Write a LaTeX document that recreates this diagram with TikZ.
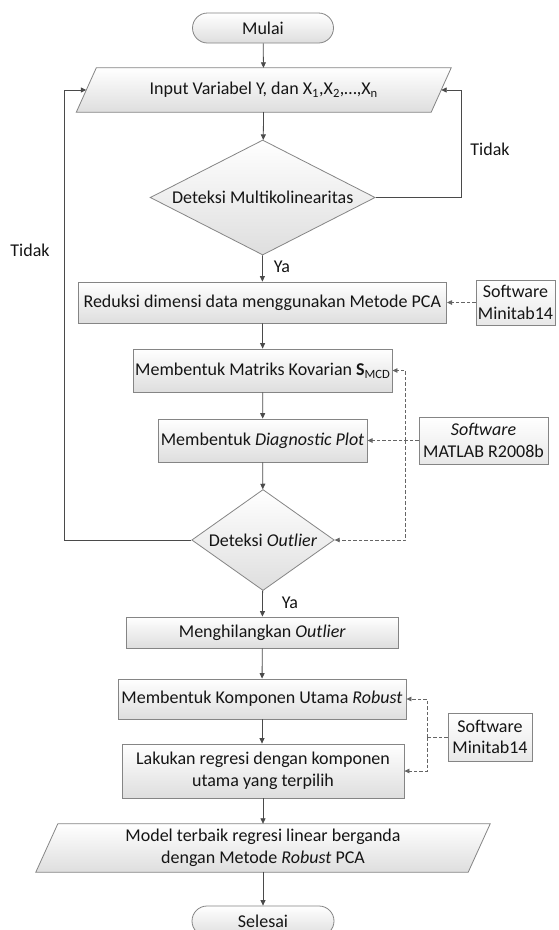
\documentclass[tikz,border=0pt]{standalone}
\usepackage{fontspec}
\setmainfont{Carlito}
\usetikzlibrary{shapes.geometric,arrows.meta,calc,backgrounds}
\definecolor{bordc}{HTML}{858585}
\definecolor{linec}{HTML}{4A4A4A}
\definecolor{shadec}{HTML}{DEDEDE}
\definecolor{txtc}{HTML}{151515}
\tikzset{
  base/.style={draw=bordc, line width=0.8pt, top color=white, bottom color=shadec, inner sep=0pt, align=center, text=txtc, font=\fontsize{18}{21.5}\selectfont},
  procbox/.style={base, rectangle},
  termbox/.style={base, rectangle, rounded corners=15pt},
  decbox/.style={base, diamond},
  swbox/.style={draw=bordc, line width=0.8pt, top color=white, bottom color=shadec!70, inner sep=0pt, align=center, text=txtc, font=\fontsize{18}{21.5}\selectfont},
  iobox/.style={inner sep=0pt, align=center, text=txtc, font=\fontsize{18}{21.5}\selectfont},
  para/.style={draw=bordc, line width=0.8pt, top color=white, bottom color=shadec},
  lbl/.style={inner sep=0pt, text=txtc, font=\fontsize{18}{21.5}\selectfont},
  arr/.style={draw=linec, line width=0.8pt, -{Triangle[length=5.5pt,width=5pt]}},
  conn/.style={draw=linec, line width=0.8pt},
  dasharr/.style={draw=linec!85, line width=0.8pt, dash pattern=on 3.5pt off 2pt, -{Triangle[length=5pt,width=4.5pt]}},
  dashln/.style={draw=linec!85, line width=0.8pt, dash pattern=on 3.5pt off 2pt},
}
\begin{document}
\begin{tikzpicture}[x=1pt,y=-1pt]
\useasboundingbox (0,0) rectangle (558,930);
% nodes
\node[termbox, minimum width=141pt, minimum height=30pt] (mulai) at (263,28) {Mulai};
\node[iobox, minimum width=354.5pt, minimum height=44pt] (inp) at (263.75,90) {Input Variabel Y, dan X\textsubscript{1},X\textsubscript{2},\dots,X\textsubscript{n}};
\node[decbox, minimum width=225pt, minimum height=115pt, aspect=1.957] (d1) at (262.7,197.5) {Deteksi Multikolinearitas};
\node[procbox, minimum width=368.6pt, minimum height=41pt] (red) at (262.3,302.5) {Reduksi dimensi data menggunakan Metode PCA};
\node[swbox, minimum width=79pt, minimum height=45pt] (sw1) at (515.5,302.5) {Software\\Minitab14};
\node[procbox, minimum width=258.5pt, minimum height=43pt] (kov) at (262.8,370.5) {Membentuk Matriks Kovarian \textbf{S}\textsubscript{MCD}};
\node[procbox, minimum width=209pt, minimum height=43pt] (diag) at (262.6,440.5) {Membentuk \textit{Diagnostic Plot}};
\node[swbox, minimum width=129pt, minimum height=47pt] (sw2) at (483.5,440.5) {\textit{Software}\\MATLAB R2008b};
\node[decbox, minimum width=142.5pt, minimum height=101pt, aspect=1.41] (d2) at (263,540) {Deteksi \textit{Outlier}};
\node[procbox, minimum width=272.5pt, minimum height=31pt] (hil) at (262.3,632.5) {Menghilangkan \textit{Outlier}};
\node[procbox, minimum width=288pt, minimum height=40pt] (komp) at (262,699) {Membentuk Komponen Utama \textit{Robust}};
\node[procbox, minimum width=282pt, minimum height=54pt] (lak) at (263,771) {Lakukan regresi dengan komponen\\utama yang terpilih};
\node[swbox, minimum width=84pt, minimum height=48pt] (sw3) at (490,737) {Software\\Minitab14};
\node[iobox, minimum width=432pt, minimum height=48pt] (outp) at (263,848) {Model terbaik regresi linear berganda\\dengan Metode \textit{Robust} PCA};
\node[termbox, minimum width=142pt, minimum height=30pt] (sel) at (263,921) {Selesai};
% parallelograms behind
\begin{scope}[on background layer]
\fill[white] (0,0) rectangle (558,930);
\path[para] ($(inp.north west)+(10,0)$) -- ($(inp.north east)+(10,0)$) -- ($(inp.south east)+(-10,0)$) -- ($(inp.south west)+(-10,0)$) -- cycle;
\path[para] ($(outp.north west)+(11,0)$) -- ($(outp.north east)+(11,0)$) -- ($(outp.south east)+(-11,0)$) -- ($(outp.south west)+(-11,0)$) -- cycle;
\end{scope}
% labels
\node[lbl] (t1) at (490,149) {Tidak};
\node[lbl] (t2) at (30,250) {Tidak};
\node[lbl] (y1) at (282,267) {Ya};
\node[lbl] (y2) at (290,603) {Ya};
% helper coordinates
\coordinate (rloop) at (461.5,90);
\coordinate (lloop) at (64,90);
\coordinate (j1) at (405.7,440.5);
\coordinate (j2) at (427,737);
% main flow
\draw[arr] (mulai) -- (inp);
\draw[arr] (inp) -- (d1);
\draw[arr] (d1) -- (red);
\draw[arr] (red) -- (kov);
\draw[arr] (kov) -- (diag);
\draw[arr] (diag) -- (d2);
\draw[arr] (d2) -- (hil);
\draw[arr] (hil) -- (komp);
\draw[arr] (komp.south) -- (komp.south |- lak.north);
\draw[arr] (lak.south -| outp.north) -- (outp.north);
\draw[arr] (outp) -- (sel);
% loops
\draw[conn] (d1.east) -| (rloop);
\draw[arr] (rloop) -- (inp.east);
\draw[conn] (d2.west) -| (lloop);
\draw[arr] (lloop) -- (inp.west);
% software links
\draw[dasharr] (sw1.west) -- (red.east);
\draw[dasharr] (sw2.west) -- (diag.east);
\draw[dasharr] (j1) |- (kov.east);
\draw[dasharr] (j1) |- (d2.east);
\draw[dashln] (sw3.west) -- (j2);
\draw[dasharr] (j2) |- (komp.east);
\draw[dasharr] (j2) |- (lak.east);
\end{tikzpicture}
\end{document}
